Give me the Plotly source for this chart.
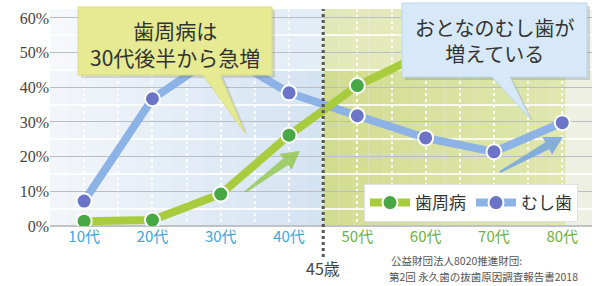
import plotly.graph_objects as go
import math

# ---- data ----
categories = ["10代", "20代", "30代", "40代", "50代", "60代", "70代", "80代"]
perio = [1.4, 1.7, 9.2, 26.2, 40.5, 50.0, 52.0, 50.5]     # 歯周病 (%)
caries = [7.2, 36.7, 50.0, 38.4, 31.8, 25.4, 21.4, 29.8]  # むし歯 (%)
y_ticks = [0, 10, 20, 30, 40, 50, 60]
y_ticktext = ["0%", "10%", "20%", "30%", "40%", "50%", "60%"]
cat_colors = ["#3ea6dd"] * 4 + ["#6fb03e"] * 4
marker_age_label = "45歳"
callout1 = "歯周病は<br>30代後半から急増"
callout2 = "おとなのむし歯が<br>増えている"
source_lines = ["公益財団法人8020推進財団:", "第2回 永久歯の抜歯原因調査報告書2018"]

W, H = 598, 286
L, R, T, B = 50, 6, 9, 60
PW, PH = W - L - R, H - T - B
XMIN, XMAX = -0.5, -0.5 + PW / 68.3
YMAX = PH / 3.467

def px(x):
    return (x - L) / PW

def py(y):
    return (H - B - y) / PH

def path(points):
    return "M " + " L ".join(f"{px(a):.4f},{py(b):.4f}" for a, b in points) + " Z"

x_idx = list(range(len(categories)))

fig = go.Figure()
fig.add_trace(go.Scatter(
    x=x_idx, y=caries, name="むし歯", mode="lines+markers",
    line=dict(color="#8db2e6", width=8),
    marker=dict(color="#6b74c7", size=15, line=dict(color="white", width=2)),
    legendrank=2))
fig.add_trace(go.Scatter(
    x=x_idx, y=perio, name="歯周病", mode="lines+markers",
    line=dict(color="#a8cc3e", width=8),
    marker=dict(color="#48a846", size=15, line=dict(color="white", width=2)),
    legendrank=1))

shapes = []
def lerp(c1, c2, t):
    a = [int(c1[i:i + 2], 16) for i in (1, 3, 5)]
    b = [int(c2[i:i + 2], 16) for i in (1, 3, 5)]
    return "#" + "".join(f"{round(a[i] + (b[i] - a[i]) * t):02x}" for i in range(3))

n = 16
for i in range(n):
    x0 = XMIN + (3.5 - XMIN) * i / n
    x1 = XMIN + (3.5 - XMIN) * (i + 1) / n
    shapes.append(dict(type="rect", xref="x", yref="y", x0=x0, x1=x1, y0=0, y1=YMAX,
                       fillcolor=lerp("#f3f6fa", "#d3e2f2", (i + 0.5) / n),
                       line=dict(width=0), layer="below"))
for i in range(n):
    x0 = 3.5 + (7.05 - 3.5) * i / n
    x1 = 3.5 + (7.05 - 3.5) * (i + 1) / n
    shapes.append(dict(type="rect", xref="x", yref="y", x0=x0, x1=x1, y0=0, y1=YMAX,
                       fillcolor=lerp("#d2dc90", "#dfe7b0", (i + 0.5) / n),
                       line=dict(width=0), layer="below"))
shapes.append(dict(type="rect", xref="x", yref="y", x0=7.05, x1=XMAX, y0=0, y1=YMAX,
                   fillcolor="#eef0e4", line=dict(width=0), layer="below"))
shapes.append(dict(type="rect", xref="x", yref="y", x0=XMIN, x1=XMAX, y0=45, y1=YMAX,
                   fillcolor="rgba(255,255,255,0.35)", line=dict(width=0), layer="below"))

# 45歳 dotted line
shapes.append(dict(type="line", xref="x", yref="paper", x0=3.5, x1=3.5, y0=py(257), y1=1,
                   line=dict(color="#555555", width=3, dash="dot")))

def arrow(tail, tip, hw_tail, hw_shaft, head_len, head_hw):
    dx, dy = tip[0] - tail[0], tip[1] - tail[1]
    ln = math.hypot(dx, dy)
    ux, uy = dx / ln, dy / ln
    nx, ny = -uy, ux
    bx, by = tip[0] - ux * head_len, tip[1] - uy * head_len
    pts = [
        (tail[0] + nx * hw_tail, tail[1] + ny * hw_tail),
        (bx + nx * hw_shaft, by + ny * hw_shaft),
        (bx + nx * head_hw, by + ny * head_hw),
        tip,
        (bx - nx * head_hw, by - ny * head_hw),
        (bx - nx * hw_shaft, by - ny * hw_shaft),
        (tail[0] - nx * hw_tail, tail[1] - ny * hw_tail),
    ]
    return path(pts)

shapes.append(dict(type="path", xref="paper", yref="paper",
                   path=arrow((245, 192), (300, 151), 1, 4, 18, 10),
                   fillcolor="rgba(140,196,60,0.75)", line=dict(width=0)))
shapes.append(dict(type="path", xref="paper", yref="paper",
                   path=arrow((500, 172), (563, 137), 1, 4, 18, 10),
                   fillcolor="rgba(110,160,225,0.8)", line=dict(width=0)))

# callout 1 (yellow)
shapes.append(dict(type="path", xref="paper", yref="paper",
                   path=path([(81, 10), (275, 10), (275, 78), (224, 78), (248, 136), (206, 78), (81, 78)]),
                   fillcolor="rgba(120,120,90,0.25)", line=dict(width=0)))
shapes.append(dict(type="path", xref="paper", yref="paper",
                   path=path([(78, 7), (272, 7), (272, 75), (220, 75), (245, 133), (203, 75), (78, 75)]),
                   fillcolor="#e6ea93", line=dict(color="#d8dc80", width=1)))
# callout 2 (blue)
shapes.append(dict(type="path", xref="paper", yref="paper",
                   path=path([(405, 6), (590, 6), (590, 80), (513, 80), (533, 121), (495, 80), (405, 80)]),
                   fillcolor="rgba(90,110,130,0.25)", line=dict(width=0)))
shapes.append(dict(type="path", xref="paper", yref="paper",
                   path=path([(402, 3), (587, 3), (587, 77), (510, 77), (530, 118), (492, 77), (402, 77)]),
                   fillcolor="#d7e9f8", line=dict(color="#bcd6ee", width=1)))

annotations = [
    dict(text=callout1, xref="paper", yref="paper", x=px(175), y=py(43), showarrow=False,
         font=dict(family="Noto Sans CJK JP", size=21, color="#333333"), align="center",
         xanchor="center", yanchor="middle"),
    dict(text=callout2, xref="paper", yref="paper", x=px(494), y=py(40), showarrow=False,
         font=dict(family="Noto Sans CJK JP", size=20, color="#333333"), align="center",
         xanchor="center", yanchor="middle"),
    dict(text=marker_age_label, xref="x", yref="paper", x=3.5, y=py(268), showarrow=False,
         font=dict(family="Noto Sans CJK JP", size=16, color="#444444"),
         xanchor="center", yanchor="middle"),
    dict(text=source_lines[0], xref="paper", yref="paper", x=px(389), y=py(270), showarrow=False,
         font=dict(family="Noto Sans CJK JP", size=10.5, color="#555555"),
         xanchor="left", yanchor="bottom"),
    dict(text=source_lines[1], xref="paper", yref="paper", x=px(387), y=py(286), showarrow=False,
         font=dict(family="Noto Sans CJK JP", size=10.5, color="#555555"),
         xanchor="left", yanchor="bottom"),
]

ticktext = [f"<span style='color:{c}'>{t}</span>" for t, c in zip(categories, cat_colors)]

fig.update_layout(
    width=W, height=H,
    margin=dict(l=L, r=R, t=T, b=B, autoexpand=False),
    paper_bgcolor="white", plot_bgcolor="#eef3f8",
    shapes=shapes, annotations=annotations,
    showlegend=True,
    legend=dict(orientation="h", x=px(364), y=py(184), xanchor="left", yanchor="top",
                bgcolor="white", bordercolor="#e0e0e0", borderwidth=1,
                font=dict(family="Noto Sans CJK JP", size=17, color="#333333"),
                traceorder="normal", itemwidth=40),
    xaxis=dict(range=[XMIN, XMAX], tickvals=x_idx, ticktext=ticktext, automargin=False,
               showgrid=True, gridcolor="rgba(255,255,255,0.9)", gridwidth=1.5, griddash="dot",
               minor=dict(tickvals=[i + 0.5 for i in range(-1, 8)], showgrid=True,
                          gridcolor="rgba(255,255,255,0.8)", gridwidth=1.5),
               zeroline=False, ticks="", ticklen=0,
               tickfont=dict(family="Noto Sans CJK JP", size=15)),
    yaxis=dict(range=[0, YMAX], tickvals=y_ticks, ticktext=y_ticktext, automargin=False,
               showgrid=True, gridcolor="#b9bec4", gridwidth=1.2,
               minor=dict(tickvals=[5, 15, 25, 35, 45, 55], showgrid=True,
                          gridcolor="rgba(255,255,255,0.8)", gridwidth=1.5),
               zeroline=True, zerolinecolor="#bfc3c6", zerolinewidth=2,
               ticks="", ticklen=0,
               tickfont=dict(family="Liberation Serif, serif", size=16, color="#444444")),
)

fig.write_html("out.html", config={"displayModeBar": False},
               post_script="document.body.style.margin='0';document.body.style.overflow='hidden';")
